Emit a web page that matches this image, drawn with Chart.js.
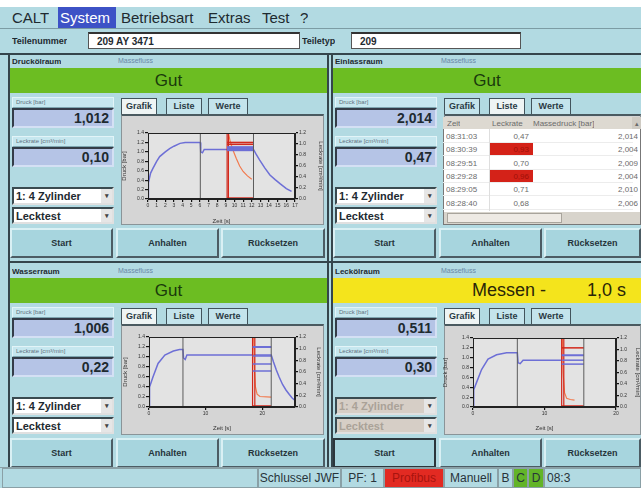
<!DOCTYPE html>
<html lang="de">
<head>
<meta charset="UTF-8">
<title>CALT Lecktest</title>
<script src="https://cdnjs.cloudflare.com/ajax/libs/chart.js/4.4.1/chart.umd.min.js"></script>
<style>
    body {
        margin: 0;
        width: 641px;
        height: 488px;
        overflow: hidden;
        position: relative;
        background: #b2dae2;
        font-family: 'Liberation Sans', Arial, sans-serif;
        color: #1e2a30;
    }
    .abs { position: absolute; box-sizing: border-box; white-space: nowrap; overflow: hidden; }
    .menu { font-size: 15px; top: 9px; }
    .sel { background: #3d52c6; color: #fff; }
    .field { background: #fff; border: 1px solid #555; border-top: 2px solid #333; font-size: 10px; font-weight: bold; padding: 2px 8px; }
    .hdr { font-size: 8px; font-weight: bold; }
    .sub { font-size: 7px; color: #6a88a6; }
    .state { font-size: 17px; text-align: center; color: #1a3a0c; line-height: 25px; }
    .lbl { background: #c6e7ef; border: 1px solid #e2f4f8; border-bottom-color: #7ea6b0; font-size: 6px; color: #5f7280; padding: 1px 3px; }
    .val { background: #b5c4e6; border: 2px solid; border-color: #343c48 #d4e0f4 #d4e0f4 #343c48; font-size: 14px; font-weight: bold; text-align: right; padding: 1px 3px; line-height: 15px; }
    .dd { background: #fff; border: 2px solid; border-color: #3a4a50 #e0e0e0 #e0e0e0 #3a4a50; font-size: 11px; font-weight: bold; padding: 1px 2px; line-height: 13px; }
    .dd span { position: absolute; right: 0; top: 0; width: 11px; height: 100%; background: #e6e6e6; font-size: 7px; text-align: center; color: #444; }
    .dd.off { background: #d6cec6; color: #aaa298; }
    .tab { background: #c4e4ec; border: 1.5px solid #42545c; border-bottom: none; font-size: 9px; font-weight: bold; text-align: center; line-height: 14px; color: #2a3a44; }
    .tab.on { background: #eef4f4; }
    .box { background: #d5d5d5; border: 1px solid #8a9498; border-top: 2px solid #4a5a60; }
    .btn { background: #a7d5de; border: 2px solid; border-color: #d9f0f4 #4c5c64 #4c5c64 #d9f0f4; font-size: 9px; font-weight: bold; text-align: center; color: #26343a; }
    .btn.down { border: 2px solid #2c363c; }
    .line { background: #35454c; }
    .cell { font-size: 8px; color: #6b6b6b; line-height: 13px; }
    .stat { border: 1px solid #8aa0a6; font-size: 12px; line-height: 19px; padding: 0; color: #28343a; text-align: center; }
</style>
</head>
<body>
<div id="ui"></div>
<script>
    // ---- data ----
    const menuItems = ['CALT', 'System', 'Betriebsart', 'Extras', 'Test', '?'];
    const panelNames = ['Druckölraum', 'Einlassraum', 'Wasserraum', 'Leckölraum'];
    const panelStates = ['Gut', 'Gut', 'Gut', 'Messen -'];
    const pressureValues = ['1,012', '2,014', '1,006', '0,511'];
    const leakValues = ['0,10', '0,47', '0,22', '0,30'];

    const tblZeit = ['08:31:03', '08:30:39', '08:29:51', '08:29:28', '08:29:05', '08:28:40'];
    const tblLeckrate = ['0,47', '0,93', '0,70', '0,96', '0,71', '0,68'];
    const tblAlarm = [false, true, false, true, false, false];
    const tblDruck = ['2,014', '2,004', '2,009', '2,004', '2,010', '2,006'];

    const statusCells = ['Schlussel JWF', 'PF: 1', 'Profibus', 'Manuell', 'B', 'C', 'D', '08:3'];

    const pressureTicks = [0, 0.2, 0.4, 0.6, 0.8, 1.0, 1.2, 1.4];
    const leakTicks = [0, 0.2, 0.4, 0.6, 0.8, 1.0, 1.2];

    // top left chart (Druckölraum)
    const tlTimeTicks = [0, 1, 2, 3, 4, 5, 6, 7, 8, 9, 10, 11, 12, 13, 14, 15, 16, 17];
    const tlPressure = [[0, 0], [0.05, 0.35], [0.3, 0.55], [0.6, 0.66], [1.0, 0.8], [1.35, 0.9], [2.0, 1.0], [2.5, 1.07],
        [3.0, 1.12], [3.7, 1.18], [4.3, 1.2], [6.05, 1.2], [6.1, 1.0], [6.3, 0.98], [6.5, 1.05], [12.2, 1.05],
        [12.5, 0.95], [12.9, 0.83], [13.5, 0.66], [14.1, 0.51], [14.7, 0.41], [15.3, 0.32], [16.0, 0.22], [16.6, 0.16]];
    const tlLeak = [[9.3, 1.2], [9.5, 1.05], [9.8, 0.9], [10.2, 0.74], [10.6, 0.6], [11.0, 0.5], [11.5, 0.42], [12.0, 0.36]];
    const tlGreyMarks = [6.05, 12.2];
    const tlRedMarks = [9.15, 9.3];
    const tlBlueLevels = [1.1, 1.07, 1.05, 1.03];
    const tlRedLevels = [1.2, 1.16, 0.02];

    // bottom left chart (Wasserraum)
    const blTimeTicks = [0, 10, 20];
    const blPressure = [[0, 0], [0.1, 0.4], [0.7, 0.6], [1.6, 0.87], [2.8, 1.04], [4.3, 1.12], [5.4, 1.15], [6.0, 1.15],
        [6.1, 0.98], [6.4, 0.95], [6.7, 1.04], [18.4, 1.04], [21.6, 1.04], [22.0, 0.9], [22.5, 0.74], [23.0, 0.6],
        [23.6, 0.45], [24.2, 0.34], [24.8, 0.25], [25.3, 0.18], [25.7, 0.14]];
    const blLeak = [[18.5, 1.2], [18.6, 0.7], [18.8, 0.35], [19.1, 0.22], [19.6, 0.18], [21.6, 0.17]];
    const blGreyMarks = [6.0, 21.6];
    const blRedMarks = [18.3, 18.7];
    const blBlueLevels = [1.2, 1.02, 0.86, 0.72];
    const blRedLevels = [0.02];

    // bottom right chart (Leckölraum)
    const brTimeTicks = [0, 10, 20];
    const brPressure = [[0, 0], [0.1, 0.35], [0.5, 0.5], [1.2, 0.76], [2.1, 0.97], [3.3, 1.06], [4.7, 1.1], [6.2, 1.1],
        [6.3, 0.9], [6.6, 0.88], [7.0, 0.95], [12.4, 0.95]];
    const brLeak = [[12.5, 1.2], [12.6, 0.6], [12.8, 0.25], [13.1, 0.15], [13.6, 0.13], [14.2, 0.12]];
    const brGreyMarks = [6.2, 15.5];
    const brRedMarks = [12.4, 12.7];
    const brBlueLevels = [1.05, 0.95, 0.87];
    const brRedLevels = [1.2, 0.02];

    const BLUE = '#6d6fd6';
    const RED = '#d2281c';
    const ORANGE = '#f27a4e';
    const GREY = '#5c5c5c';

    // ---- layout helpers ----
    const ui = document.getElementById('ui');
    function el(cls, x, y, w, h, html, style) {
        const d = document.createElement('div');
        d.className = 'abs ' + cls;
        d.style.left = x + 'px';
        d.style.top = y + 'px';
        if (w != null) d.style.width = Math.min(w, 641 - x) + 'px';
        if (h != null) d.style.height = h + 'px';
        if (html != null) d.innerHTML = html;
        if (style) Object.assign(d.style, style);
        ui.appendChild(d);
        return d;
    }

    // menu + part number row
    el('', 0, 0, 641, 7, null, {background: '#fff'});
    const menuX = [12, 60, 121, 208, 262, 300];
    el('sel', 58, 7, 58, 21);
    menuItems.forEach((m, i) => el('menu' + (i === 1 ? ' sel' : ''), menuX[i], 9, null, null, m,
        i === 1 ? {background: 'transparent'} : null));
    el('line', 0, 28, 641, 1, null, {background: '#7c9ca4'});
    el('hdr', 12, 36, null, null, 'Teilenummer', {fontSize: '9px'});
    el('field', 88, 32, 212, 17, '209 AY 3471');
    el('hdr', 302, 36, null, null, 'Teiletyp', {fontSize: '9px'});
    el('field', 351, 32, 170, 17, '209');
    el('line', 0, 53, 641, 2);
    el('line', 8, 55, 2, 412);
    el('line', 327, 55, 2, 412);
    el('line', 331, 55, 2, 412);
    el('line', 8, 261, 633, 2);

    function panel(i, ox, oy) {
        el('hdr', 12 + ox, 57 + oy, null, null, panelNames[i]);
        el('sub', 118 + ox, 57 + oy, null, null, 'Massefluss');
        const yellow = i === 3;
        el('state', 10 + ox, 68 + oy, 317, 25, yellow ? '' : panelStates[i],
            {background: yellow ? '#f4e41c' : '#6cbd22'});
        if (yellow) {
            el('state', 472, 68 + oy, null, 25, panelStates[i], {fontSize: '18px', color: '#2a2608'});
            el('state', 587, 68 + oy, null, 25, '1,0 s', {fontSize: '18px', color: '#2a2608'});
        }
        el('lbl', 12 + ox, 97 + oy, 102, 11, 'Druck [bar]');
        el('val', 12 + ox, 108 + oy, 102, 20, pressureValues[i]);
        el('lbl', 12 + ox, 136 + oy, 102, 11, 'Leckrate [cm³/min]');
        el('val', 12 + ox, 147 + oy, 102, 20, leakValues[i]);
        const off = i === 3 ? ' off' : '';
        el('dd' + off, 12 + ox, 187 + oy, 102, 18, '1: 4 Zylinder<span>▾</span>');
        el('dd' + off, 12 + ox, 207 + oy, 102, 17, 'Lecktest<span>▾</span>');
        el('tab' + (i !== 1 ? ' on' : ''), 121 + ox, 98 + oy, 36, 16, 'Grafik');
        el('tab' + (i === 1 ? ' on' : ''), 166 + ox, 98 + oy, 36, 16, 'Liste');
        el('tab', 208 + ox, 98 + oy, 40, 16, 'Werte');
        el('box', 121 + ox, 114 + oy, 203, 111);
        el('btn' + (i === 3 ? ' down' : ''), 10 + ox, 228 + oy, 103, 30, 'Start', {lineHeight: '26px'});
        el('btn', 116 + ox, 228 + oy, 103, 30, 'Anhalten', {lineHeight: '26px'});
        el('btn', 221 + ox, 228 + oy, 104, 30, 'Rücksetzen', {lineHeight: '26px'});
    }
    panel(0, 0, 0);
    panel(1, 323, 0);
    panel(2, 0, 210);
    panel(3, 323, 210);

    // list of the Einlassraum panel
    el('', 443, 117, 198, 108, null, {background: '#fff', border: '1px solid #777'});
    el('cell', 443, 117, 198, 12, null, {background: '#ddd9d1'});
    el('cell', 447, 117, null, null, 'Zeit');
    el('cell', 492, 117, null, null, 'Leckrate');
    el('cell', 533, 117, null, null, 'Massedruck [bar]');
    el('cell', 632, 117, 9, 12, '▴', {background: '#cfcbc3', fontSize: '7px', textAlign: 'center'});
    tblZeit.forEach((z, r) => {
        const y = 130 + r * 13.3;
        el('', 443, y + 12, 190, 1, null, {background: '#ececec'});
        el('cell', 446, y, 43, 13, z);
        el('cell', 490, y, 43, 12, tblLeckrate[r], {textAlign: 'right', paddingRight: '4px',
            background: tblAlarm[r] ? '#d42218' : 'transparent', color: tblAlarm[r] ? '#a01008' : '#6b6b6b'});
        el('cell', 560, y, 78, 13, tblDruck[r], {textAlign: 'right'});
    });
    el('', 489, 129, 1, 82, null, {background: '#dedede'});
    el('', 444, 212, 196, 12, null, {background: '#d8d4cc'});
    el('', 447, 213, 115, 10, null, {background: '#eeeae4', border: '1px solid #a8a49c'});

    // bottom status bar
    el('', 0, 467, 641, 21, null, {background: '#b2dae2', borderTop: '1px solid #8aa0a6'});
    el('stat', 2, 468, 256, 20);
    const statX = [258, 341, 384, 444, 498, 513, 528, 544];
    const statW = [83, 43, 60, 54, 15, 15, 16, 97];
    const statBg = ['', '', '#e22a22', '', '', '#62b428', '#62b428', ''];
    statusCells.forEach((s, k) => el('stat', statX[k], 468, statW[k], 20, s,
        {background: statBg[k] || 'transparent', color: k === 2 ? '#a8140e' : '#28343a',
         textAlign: k === 7 ? 'left' : 'center', paddingLeft: k === 7 ? '2px' : '0'}));

    // ---- charts ----
    const plotFrame = {
        id: 'plotFrame',
        beforeDraw(c) {
            const a = c.chartArea, g = c.ctx;
            g.save();
            g.fillStyle = '#e3e3e3';
            g.fillRect(a.left, a.top, a.width, a.height);
            g.restore();
        },
        afterDraw(c) {
            const a = c.chartArea, g = c.ctx;
            g.save();
            g.strokeStyle = '#222';
            g.lineWidth = 1;
            g.strokeRect(a.left + 0.5, a.top + 0.5, a.width - 1, a.height - 1);
            g.restore();
        }
    };

    const pts = arr => arr.map(p => ({x: p[0], y: p[1]}));
    const line = (data, color, width, axis) => ({
        data: data, borderColor: color, borderWidth: width, yAxisID: axis || 'y',
        showLine: true, pointRadius: 0, tension: 0
    });

    function makeChart(c) {
        const box = el('', c.x, c.y, c.w, c.h);
        const cv = document.createElement('canvas');
        box.appendChild(cv);
        const xFrom = c.redMarks[0], xTo = c.greyMarks[1];
        const ds = [];
        c.greyMarks.forEach(m => ds.push(line(pts([[m, 0], [m, 1.4]]), GREY, 1)));
        c.blueLevels.forEach((v, k) => ds.push(line(pts([[xFrom, v], [xTo, v]]), BLUE, k === 0 ? 2 : 1.5)));
        c.redLevels.forEach(v => ds.push(line(pts([[xFrom, v], [xTo, v]]), RED, 1.5)));
        c.redMarks.forEach(m => ds.push(line(pts([[m, 0], [m, 1.4]]), RED, 1.2)));
        ds.push(line(pts(c.leak), ORANGE, 1.2, 'y2'));
        ds.push(line(pts(c.pressure), BLUE, 1.5));

        const axisFont = {size: 5, family: 'Liberation Sans'};
        const titleFont = {size: 6, family: 'Liberation Sans'};
        const gridCfg = {drawOnChartArea: false, color: '#111', tickLength: 3, lineWidth: 1.2};
        new Chart(cv, {
            type: 'scatter',
            data: {datasets: ds},
            plugins: [plotFrame],
            options: {
                responsive: true,
                maintainAspectRatio: false,
                animation: false,
                layout: {padding: {top: c.padTop, left: 0, right: 0, bottom: 0}},
                plugins: {legend: {display: false}, tooltip: {enabled: false}},
                scales: {
                    x: {
                        type: 'linear', min: 0, max: c.xMax,
                        afterBuildTicks: s => { s.ticks = c.xTicks.map(v => ({value: v})); },
                        afterFit: s => { s.height = c.bottomH; },
                        ticks: {font: axisFont, color: '#333', padding: 1, maxRotation: 0, autoSkip: false},
                        title: {display: true, text: 'Zeit [s]', font: titleFont, color: '#333', padding: 0},
                        grid: gridCfg, border: {color: '#222'}
                    },
                    y: {
                        position: 'left', min: 0, max: 1.4,
                        afterBuildTicks: s => { s.ticks = pressureTicks.map(v => ({value: v})); },
                        afterFit: s => { s.width = c.leftW; },
                        ticks: {font: axisFont, color: '#333', padding: 1, callback: v => v.toFixed(1)},
                        title: {display: true, text: 'Druck [bar]', font: titleFont, color: '#333', padding: 0},
                        grid: gridCfg, border: {color: '#222'}
                    },
                    y2: {
                        position: 'right', min: 0, max: 1.2,
                        afterBuildTicks: s => { s.ticks = leakTicks.map(v => ({value: v})); },
                        afterFit: s => { s.width = c.rightW; },
                        ticks: {font: axisFont, color: '#333', padding: 1, callback: v => v.toFixed(1)},
                        title: {display: true, text: 'Leckrate [cm³/min]', font: titleFont, color: '#333', padding: 0},
                        grid: gridCfg, border: {color: '#222'}
                    }
                }
            }
        });
    }

    makeChart({x: 121, y: 115, w: 203, h: 110, padTop: 18, leftW: 27, rightW: 29, bottomH: 26, xMax: 17,
        xTicks: tlTimeTicks, pressure: tlPressure, leak: tlLeak, greyMarks: tlGreyMarks, redMarks: tlRedMarks,
        blueLevels: tlBlueLevels, redLevels: tlRedLevels});
    makeChart({x: 122, y: 325, w: 200, h: 107, padTop: 12, leftW: 27, rightW: 27, bottomH: 25, xMax: 25.8,
        xTicks: blTimeTicks, pressure: blPressure, leak: blLeak, greyMarks: blGreyMarks, redMarks: blRedMarks,
        blueLevels: blBlueLevels, redLevels: blRedLevels});
    makeChart({x: 442, y: 327, w: 199, h: 105, padTop: 11, leftW: 31, rightW: 25, bottomH: 25, xMax: 20,
        xTicks: brTimeTicks, pressure: brPressure, leak: brLeak, greyMarks: brGreyMarks, redMarks: brRedMarks,
        blueLevels: brBlueLevels, redLevels: brRedLevels});
</script>
</body>
</html>
